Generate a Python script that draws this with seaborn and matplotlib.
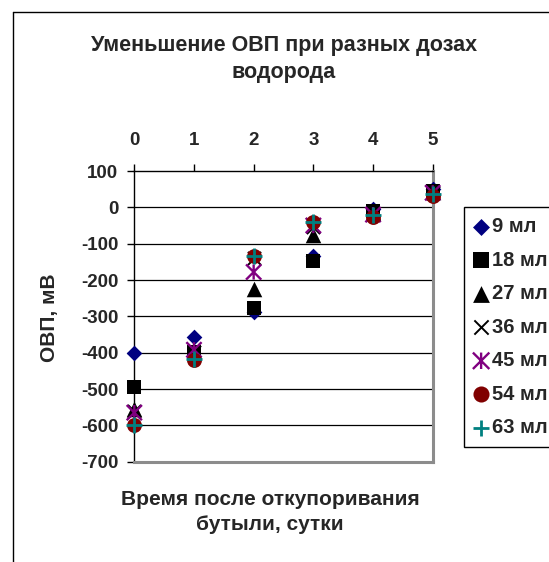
import matplotlib
matplotlib.use("Agg")
import matplotlib.pyplot as plt
import seaborn as sns
import numpy as np
from matplotlib.path import Path
from matplotlib.lines import Line2D

# ---- data ----
days = [0, 1, 2, 3, 4, 5]
labels = ["9 мл", "18 мл", "27 мл", "36 мл", "45 мл", "54 мл", "63 мл"]
ml9 = [-400, -357, -287, -133, -5, 50]
ml18 = [-495, -398, -277, -148, -10, 45]
ml27 = [-555, -395, -225, -75, -15, 42]
ml36 = [-560, -398, -140, -55, -15, 40]
ml45 = [-565, -392, -178, -50, -20, 40]
ml54 = [-598, -420, -133, -40, -27, 32]
ml63 = [-598, -418, -133, -40, -20, 37]
series = [ml9, ml18, ml27, ml36, ml45, ml54, ml63]
y_ticks = [100, 0, -100, -200, -300, -400, -500, -600, -700]

title = "Уменьшение ОВП при разных дозах\nводорода"
xlabel = "Время после откупоривания\nбутыли, сутки"
ylabel = "ОВП, мВ"

sns.set_theme(style="white")
plt.rcParams["font.family"] = ["Liberation Sans", "DejaVu Sans"]
plt.rcParams["font.weight"] = "bold"
plt.rcParams["axes.unicode_minus"] = False

W, H = 549, 562
fig = plt.figure(figsize=(W / 100, H / 100), dpi=100)
fig.patch.set_facecolor("white")

x0, x1, yt, yb = 134.3, 432.7, 171.0, 461.7
ax = fig.add_axes([x0 / W, 1 - yb / H, (x1 - x0) / W, (yb - yt) / H])
ax.set_facecolor("white")

star = Path([(-1, -1), (1, 1), (-1, 1), (1, -1), (0, -1), (0, 1)],
            [Path.MOVETO, Path.LINETO, Path.MOVETO, Path.LINETO, Path.MOVETO, Path.LINETO])

styles = [
    dict(marker="D", color="#000080", s=64, filled=True, lw=0),
    dict(marker="s", color="#000000", s=112, filled=True, lw=0),
    dict(marker="^", color="#000000", s=125, filled=True, lw=0),
    dict(marker="x", color="#000000", s=90, filled=False, lw=1.4),
    dict(marker=star, color="#800080", s=120, filled=False, lw=1.7),
    dict(marker="o", color="#800000", s=115, filled=True, lw=0),
    dict(marker="+", color="#008080", s=120, filled=False, lw=2.0),
]

for i, (vals, lab, st) in enumerate(zip(series, labels, styles)):
    kw = dict(x=days, y=vals, marker=st["marker"], s=st["s"], ax=ax, label=lab,
              clip_on=False, zorder=5 + i)
    if st["marker"] is star:
        kw.update(facecolor="none", edgecolor=st["color"], linewidth=st["lw"])
    elif st["filled"]:
        kw.update(color=st["color"], edgecolor=st["color"], linewidth=st["lw"])
    else:
        kw.update(color=st["color"], linewidth=st["lw"])
    sns.scatterplot(**kw)

ax.set_xlim(0, 5)
ax.set_ylim(-700, 100)
ax.set_xticks(days)
ax.set_yticks(y_ticks)
ax.xaxis.tick_top()
ax.tick_params(axis="x", which="both", top=True, bottom=False, direction="out",
               length=5, width=1, color="black", labelsize=13.5, pad=11)
ax.tick_params(axis="y", which="both", left=True, direction="out",
               length=5, width=1, color="black", labelsize=13.5, pad=6.5)
for lab in ax.get_xticklabels() + ax.get_yticklabels():
    lab.set_fontweight("bold")
ax.set_xlabel("")
ax.set_ylabel("")

ax.grid(False)
for yv in y_ticks[1:-1]:
    ax.axhline(yv, color="black", lw=0.9, zorder=1)

ax.spines["top"].set_color("black")
ax.spines["top"].set_linewidth(1.0)
ax.spines["left"].set_color("black")
ax.spines["left"].set_linewidth(1.0)
ax.spines["right"].set_color("#8c8c8c")
ax.spines["right"].set_linewidth(2.2)
ax.spines["bottom"].set_color("#8c8c8c")
ax.spines["bottom"].set_linewidth(2.2)
for sp in ax.spines.values():
    sp.set_zorder(3)

# texts
fig.text(284 / W, 1 - 59 / H, title, ha="center", va="center", fontsize=15.5,
         fontweight="bold", linespacing=1.35)
fig.text(270 / W, 1 - 512 / H, xlabel, ha="center", va="center", fontsize=15,
         fontweight="bold", linespacing=1.35)
fig.text(49 / W, 1 - 318 / H, ylabel, ha="center", va="center", fontsize=15,
         fontweight="bold", rotation=90)

# legend
leg = ax.legend(loc="upper left", bbox_to_anchor=(464 / W, 1 - 207 / H),
                bbox_transform=fig.transFigure, frameon=True, fancybox=False,
                edgecolor="black", framealpha=1, borderaxespad=0,
                prop=dict(family="Liberation Sans", weight="bold", size=14.5),
                handlelength=0.7, handletextpad=0.2, labelspacing=0.72,
                borderpad=0.5, scatterpoints=1, markerscale=1.08)
leg.get_frame().set_linewidth(1.0)

# outer chart frame
fig.add_artist(Line2D([12.5 / W, 12.5 / W], [0, 1 - 11.5 / H], color="black",
                      lw=1.0, transform=fig.transFigure))
fig.add_artist(Line2D([12.5 / W, 1], [1 - 11.5 / H, 1 - 11.5 / H], color="black",
                      lw=1.0, transform=fig.transFigure))

fig.savefig("out.png", dpi=100)
